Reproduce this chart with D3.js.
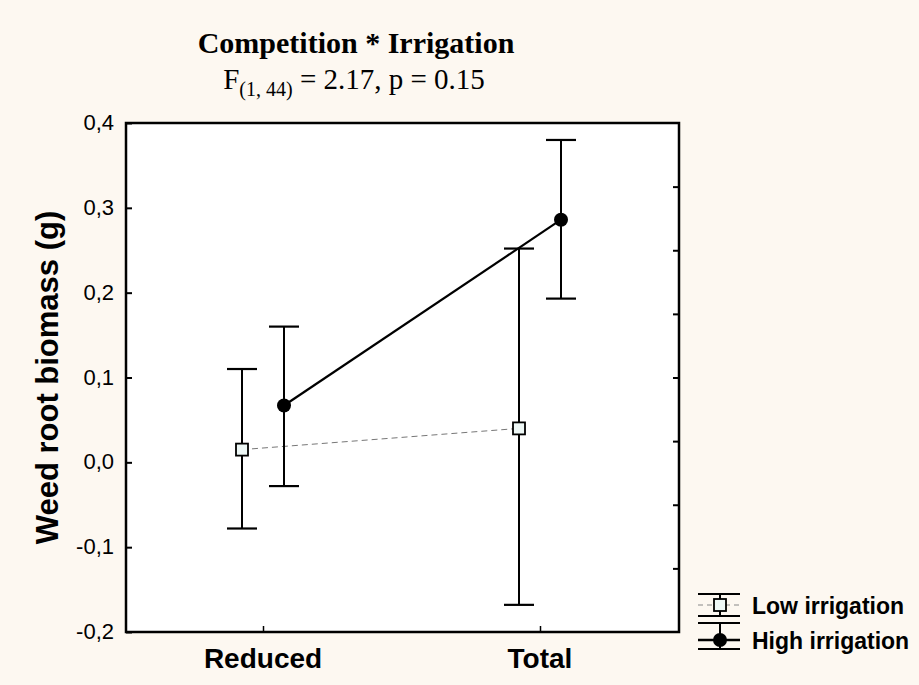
<!DOCTYPE html>
<html>
<head>
<meta charset="utf-8">
<script src="https://cdnjs.cloudflare.com/ajax/libs/d3/7.8.5/d3.min.js"></script>
<style>
  body { margin: 0; background: #fdf8f1; }
  svg { display: block; }
</style>
</head>
<body>
<svg id="chart" width="919" height="685"></svg>
<script>
'use strict';

// data
var categories = ["Reduced", "Total"];
var seriesNames = ["Low irrigation", "High irrigation"];
var lowMean = [0.015, 0.040];
var lowUpper = [0.110, 0.252];
var lowLower = [-0.078, -0.168];
var highMean = [0.067, 0.286];
var highUpper = [0.160, 0.380];
var highLower = [-0.028, 0.193];
var yTicks = [-0.2, -0.1, 0.0, 0.1, 0.2, 0.3, 0.4];

var svg = d3.select("#chart");
var margin = {left: 126, right: 679, top: 123, bottom: 632};
var sans = "Arial, 'Liberation Sans', sans-serif";
var serif = "'Liberation Serif', 'Times New Roman', serif";

var y = d3.scaleLinear().domain([-0.2, 0.4]).range([margin.bottom, margin.top]);
var x = d3.scalePoint().domain(categories).range([263, 540]);
var yRight = d3.scaleLinear().domain([0, 8]).range([margin.bottom, margin.top]);
var offset = 21;

// plot background
svg.append("rect")
  .attr("x", margin.left).attr("y", margin.top)
  .attr("width", margin.right - margin.left).attr("height", margin.bottom - margin.top)
  .attr("fill", "#ffffff");

var fmt = function(d){ return d3.format(".1f")(d).replace(".", ",").replace("−", "-"); };

// left axis (ticks pointing inward)
var yAxis = svg.append("g").attr("transform", "translate(" + margin.left + ",0)")
  .call(d3.axisRight(y).tickValues(yTicks).tickSize(6).tickFormat(""));
yAxis.select(".domain").remove();
yAxis.selectAll("line").attr("stroke", "#000").attr("stroke-width", 2);

svg.append("g").selectAll("text").data(yTicks).enter().append("text")
  .attr("x", 114).attr("y", function(d){ return y(d) + 7; })
  .attr("text-anchor", "end")
  .style("font-family", sans)
  .style("font-size", "22px")
  .text(fmt);

// right axis ticks (unlabelled, 8 divisions)
var rAxis = svg.append("g").attr("transform", "translate(" + margin.right + ",0)")
  .call(d3.axisLeft(yRight).tickValues(d3.range(1, 8)).tickSize(6).tickFormat(""));
rAxis.select(".domain").remove();
rAxis.selectAll("line").attr("stroke", "#000").attr("stroke-width", 2);

// bottom axis ticks
var xAxis = svg.append("g").attr("transform", "translate(0," + margin.bottom + ")")
  .call(d3.axisTop(x).tickSize(6).tickFormat(""));
xAxis.select(".domain").remove();
xAxis.selectAll("line").attr("stroke", "#000").attr("stroke-width", 1.5);

svg.append("g").selectAll("text").data(categories).enter().append("text")
  .attr("x", function(d){ return x(d); }).attr("y", 668)
  .attr("text-anchor", "middle")
  .style("font-family", sans)
  .style("font-size", "28px").style("font-weight", "bold")
  .text(function(d){ return d; });

// frame
svg.append("rect")
  .attr("x", margin.left).attr("y", margin.top)
  .attr("width", margin.right - margin.left).attr("height", margin.bottom - margin.top)
  .attr("fill", "none").attr("stroke", "#000").attr("stroke-width", 2.5);

function series(means, upper, lower, dx) {
  return categories.map(function(c, i){
    return {cat: c, x: x(c) + dx, mean: means[i], hi: upper[i], lo: lower[i]};
  });
}
var low = series(lowMean, lowUpper, lowLower, -offset);
var high = series(highMean, highUpper, highLower, offset);

var line = d3.line().x(function(d){ return d.x; }).y(function(d){ return y(d.mean); });

svg.append("path").datum(low).attr("d", line)
  .attr("fill", "none").attr("stroke", "#777").attr("stroke-width", 1)
  .attr("stroke-dasharray", "6,4");
svg.append("path").datum(high).attr("d", line)
  .attr("fill", "none").attr("stroke", "#000").attr("stroke-width", 2.2);

function errorBars(data) {
  var g = svg.append("g").selectAll("g").data(data).enter().append("g");
  g.append("line")
    .attr("x1", function(d){ return d.x; }).attr("x2", function(d){ return d.x; })
    .attr("y1", function(d){ return y(d.hi); }).attr("y2", function(d){ return y(d.lo); })
    .attr("stroke", "#000").attr("stroke-width", 2);
  g.append("line")
    .attr("x1", function(d){ return d.x - 15; }).attr("x2", function(d){ return d.x + 15; })
    .attr("y1", function(d){ return y(d.hi); }).attr("y2", function(d){ return y(d.hi); })
    .attr("stroke", "#000").attr("stroke-width", 2.2);
  g.append("line")
    .attr("x1", function(d){ return d.x - 15; }).attr("x2", function(d){ return d.x + 15; })
    .attr("y1", function(d){ return y(d.lo); }).attr("y2", function(d){ return y(d.lo); })
    .attr("stroke", "#000").attr("stroke-width", 2.2);
}
errorBars(low);
errorBars(high);

svg.append("g").selectAll("rect").data(low).enter().append("rect")
  .attr("x", function(d){ return d.x - 6; }).attr("y", function(d){ return y(d.mean) - 6; })
  .attr("width", 12).attr("height", 12)
  .attr("fill", "#eef8f6").attr("stroke", "#000").attr("stroke-width", 1.8);
svg.append("g").selectAll("circle").data(high).enter().append("circle")
  .attr("cx", function(d){ return d.x; }).attr("cy", function(d){ return y(d.mean); })
  .attr("r", 7).attr("fill", "#000");

// titles
svg.append("text").attr("x", 356).attr("y", 53).attr("text-anchor", "middle")
  .style("font-family", serif)
  .style("font-size", "30px").style("font-weight", "bold")
  .text("Competition * Irrigation");

var sub = svg.append("text").attr("x", 354).attr("y", 89).attr("text-anchor", "middle")
  .style("font-family", serif)
  .style("font-size", "29px");
sub.append("tspan").text("F");
sub.append("tspan").attr("dy", 7).style("font-size", "20px").text("(1, 44)");
sub.append("tspan").attr("dy", -7).text(" = 2.17, p = 0.15");

// y axis title
svg.append("text")
  .attr("transform", "translate(58," + ((margin.top + margin.bottom) / 2) + ") rotate(-90)")
  .attr("text-anchor", "middle")
  .style("font-family", sans)
  .style("font-size", "31px").style("font-weight", "bold")
  .text("Weed root biomass (g)");

// legend
var lg = svg.append("g");
var lx = 720;
function legendItem(cy, top, bottom, isLow, label) {
  lg.append("line").attr("x1", lx - 22).attr("x2", lx + 20).attr("y1", top).attr("y2", top)
    .attr("stroke", "#000").attr("stroke-width", 2);
  lg.append("line").attr("x1", lx - 22).attr("x2", lx + 20).attr("y1", bottom).attr("y2", bottom)
    .attr("stroke", "#000").attr("stroke-width", 2);
  lg.append("line").attr("x1", lx).attr("x2", lx).attr("y1", top).attr("y2", bottom)
    .attr("stroke", "#000").attr("stroke-width", 2);
  if (isLow) {
    lg.append("line").attr("x1", lx - 22).attr("x2", lx + 20).attr("y1", cy).attr("y2", cy)
      .attr("stroke", "#888").attr("stroke-width", 1).attr("stroke-dasharray", "5,4");
    lg.append("rect").attr("x", lx - 6).attr("y", cy - 6).attr("width", 12).attr("height", 12)
      .attr("fill", "#eef8f6").attr("stroke", "#000").attr("stroke-width", 1.8);
  } else {
    lg.append("line").attr("x1", lx - 22).attr("x2", lx + 20).attr("y1", cy).attr("y2", cy)
      .attr("stroke", "#000").attr("stroke-width", 2.5);
    lg.append("circle").attr("cx", lx).attr("cy", cy).attr("r", 7).attr("fill", "#000");
  }
  lg.append("text").attr("x", 752).attr("y", cy + 9)
    .style("font-family", sans)
    .style("font-size", "23px").style("font-weight", "bold")
    .text(label);
}
legendItem(605, 594, 616, true, seriesNames[0]);
legendItem(640, 623, 649, false, seriesNames[1]);
</script>
</body>
</html>
